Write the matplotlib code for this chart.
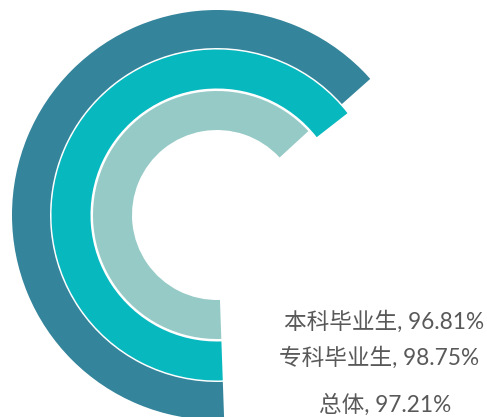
import numpy as np
import matplotlib
matplotlib.use("Agg")
import matplotlib.pyplot as plt

# Data
categories = ["本科毕业生", "专科毕业生", "总体"]
values = [96.81, 98.75, 97.21]          # percent
colors = ["#96CAC6", "#08B8BF", "#34849B"]

W, H = 487, 417
fig = plt.figure(figsize=(W / 100, H / 100), dpi=100)

cx, cy, R = 217, 215, 205   # pixel geometry of the rings
ax = fig.add_axes([(cx - R) / W, (H - cy - R) / H, 2 * R / W, 2 * R / H],
                  projection="polar")
ax.set_theta_zero_location("S", offset=2)
ax.set_theta_direction(-1)
ax.set_ylim(0, R)

full_scale = np.deg2rad(237)   # angle representing 100%
ring_centers = [104.5, 146, 186.5]
ring_height = 39
for val, rc, col in zip(values, ring_centers, colors):
    ax.barh(rc, val / 100 * full_scale, left=0, height=ring_height,
            color=col, edgecolor="none", align="center")

ax.axis("off")

label_pos = [(384, 322), (379, 358), (385, 405)]
for cat, val, (x, y) in zip(categories, values, label_pos):
    fig.text(x / W, 1 - y / H, f"{cat}, {val:.2f}%", ha="center", va="center",
             fontsize=16.3, color="#595959",
             family=["Lato", "Noto Sans CJK SC"])

fig.savefig("out.png", dpi=100)
